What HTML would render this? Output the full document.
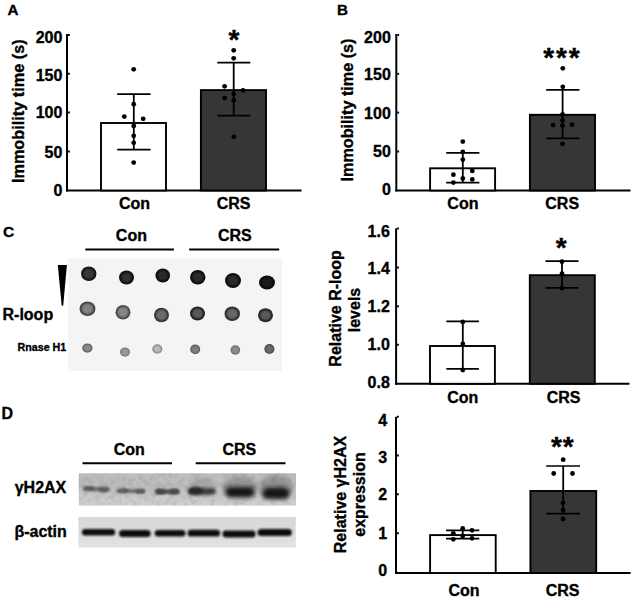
<!DOCTYPE html>
<html><head><meta charset="utf-8"><style>
html,body{margin:0;padding:0;background:#fff;}
svg{display:block;font-family:"Liberation Sans", sans-serif;}
text{stroke:#000;stroke-width:0.35px;}
</style></head><body>
<svg width="635" height="600" viewBox="0 0 635 600">
<rect width="635" height="600" fill="#fff"/>
<line x1="67" y1="34" x2="67" y2="191.5" stroke="#000" stroke-width="2"/>
<line x1="66" y1="190.5" x2="301.5" y2="190.5" stroke="#000" stroke-width="2"/>
<line x1="68" y1="35" x2="69.8" y2="35" stroke="#000" stroke-width="2"/>
<text x="62.4" y="42.800000000000004" font-size="16" text-anchor="end" font-weight="bold" >200</text>
<line x1="68" y1="73.8" x2="69.8" y2="73.8" stroke="#000" stroke-width="2"/>
<text x="62.4" y="80.8" font-size="16" text-anchor="end" font-weight="bold" >150</text>
<line x1="68" y1="112.6" x2="69.8" y2="112.6" stroke="#000" stroke-width="2"/>
<text x="62.4" y="118.19999999999999" font-size="16" text-anchor="end" font-weight="bold" >100</text>
<line x1="68" y1="151.5" x2="69.8" y2="151.5" stroke="#000" stroke-width="2"/>
<text x="62.4" y="157.9" font-size="16" text-anchor="end" font-weight="bold" >50</text>
<text x="62.4" y="196.1" font-size="16" text-anchor="end" font-weight="bold" >0</text>
<rect x="101" y="123" width="65" height="67.5" fill="#fff" stroke="#000" stroke-width="1.9"/>
<rect x="200.9" y="90.1" width="65.1" height="100.4" fill="#363636" stroke="#000" stroke-width="1.9"/>
<line x1="133.8" y1="94.2" x2="133.8" y2="149.7" stroke="#000" stroke-width="1.8"/>
<line x1="117.2" y1="94.2" x2="150.6" y2="94.2" stroke="#000" stroke-width="1.7"/>
<line x1="117.2" y1="149.7" x2="150.6" y2="149.7" stroke="#000" stroke-width="1.7"/>
<line x1="233.7" y1="62.7" x2="233.7" y2="115.7" stroke="#000" stroke-width="1.8"/>
<line x1="217.3" y1="62.7" x2="250.3" y2="62.7" stroke="#000" stroke-width="1.7"/>
<line x1="217.3" y1="115.7" x2="250.3" y2="115.7" stroke="#000" stroke-width="1.7"/>
<circle cx="133.7" cy="69.3" r="2.4" fill="#000"/>
<circle cx="133.7" cy="104.2" r="2.4" fill="#000"/>
<circle cx="124.3" cy="116.6" r="2.4" fill="#000"/>
<circle cx="143.2" cy="118.8" r="2.4" fill="#000"/>
<circle cx="133.7" cy="126" r="2.4" fill="#000"/>
<circle cx="133.7" cy="135.8" r="2.4" fill="#000"/>
<circle cx="133.7" cy="142.8" r="2.4" fill="#000"/>
<circle cx="133.7" cy="162.6" r="2.4" fill="#000"/>
<circle cx="233.7" cy="50.3" r="2.4" fill="#000"/>
<circle cx="233.7" cy="58.3" r="2.4" fill="#000"/>
<circle cx="224.6" cy="86.3" r="2.4" fill="#000"/>
<circle cx="243" cy="90.3" r="2.4" fill="#000"/>
<circle cx="233.7" cy="94.1" r="2.4" fill="#000"/>
<circle cx="224.6" cy="98.1" r="2.4" fill="#000"/>
<circle cx="233.7" cy="100.3" r="2.4" fill="#000"/>
<circle cx="233.8" cy="136.8" r="2.4" fill="#000"/>
<text x="134.5" y="208.6" font-size="16" text-anchor="middle" font-weight="bold" >Con</text>
<text x="233.6" y="208.6" font-size="16" text-anchor="middle" font-weight="bold" >CRS</text>
<text transform="translate(24.2,111.2) rotate(-90)" font-size="16.3" font-weight="bold" text-anchor="middle">Immobility time (s)</text>
<text x="233.9" y="49.2" font-size="28" font-weight="bold" text-anchor="middle">*</text>
<line x1="396.3" y1="34" x2="396.3" y2="191.5" stroke="#000" stroke-width="2"/>
<line x1="395.3" y1="190.5" x2="630.5" y2="190.5" stroke="#000" stroke-width="2"/>
<line x1="397.3" y1="35" x2="399.1" y2="35" stroke="#000" stroke-width="2"/>
<text x="390.8" y="43.1" font-size="16" text-anchor="end" font-weight="bold" >200</text>
<line x1="397.3" y1="73.8" x2="399.1" y2="73.8" stroke="#000" stroke-width="2"/>
<text x="390.8" y="80.39999999999999" font-size="16" text-anchor="end" font-weight="bold" >150</text>
<line x1="397.3" y1="112.6" x2="399.1" y2="112.6" stroke="#000" stroke-width="2"/>
<text x="390.8" y="118.6" font-size="16" text-anchor="end" font-weight="bold" >100</text>
<line x1="397.3" y1="151.5" x2="399.1" y2="151.5" stroke="#000" stroke-width="2"/>
<text x="390.8" y="157.1" font-size="16" text-anchor="end" font-weight="bold" >50</text>
<text x="390.8" y="195.1" font-size="16" text-anchor="end" font-weight="bold" >0</text>
<rect x="430.1" y="168.3" width="65.0" height="22.19999999999999" fill="#fff" stroke="#000" stroke-width="1.9"/>
<rect x="529.9" y="114.8" width="65.10000000000002" height="75.7" fill="#363636" stroke="#000" stroke-width="1.9"/>
<line x1="462.8" y1="152.9" x2="462.8" y2="182.6" stroke="#000" stroke-width="1.8"/>
<line x1="446.2" y1="152.9" x2="479.4" y2="152.9" stroke="#000" stroke-width="1.7"/>
<line x1="446.2" y1="182.6" x2="479.4" y2="182.6" stroke="#000" stroke-width="1.7"/>
<line x1="562.6" y1="89.8" x2="562.6" y2="138.3" stroke="#000" stroke-width="1.8"/>
<line x1="546.2" y1="89.8" x2="579.4" y2="89.8" stroke="#000" stroke-width="1.7"/>
<line x1="546.2" y1="138.3" x2="579.4" y2="138.3" stroke="#000" stroke-width="1.7"/>
<circle cx="462.8" cy="141.6" r="2.4" fill="#000"/>
<circle cx="462.8" cy="152" r="2.4" fill="#000"/>
<circle cx="462.8" cy="159.6" r="2.4" fill="#000"/>
<circle cx="472.3" cy="170.9" r="2.4" fill="#000"/>
<circle cx="453.4" cy="174.7" r="2.4" fill="#000"/>
<circle cx="462.8" cy="178.5" r="2.4" fill="#000"/>
<circle cx="472.3" cy="179.4" r="2.4" fill="#000"/>
<circle cx="453.4" cy="182.6" r="2.4" fill="#000"/>
<circle cx="562.8" cy="68.3" r="2.4" fill="#000"/>
<circle cx="562.8" cy="86.8" r="2.4" fill="#000"/>
<circle cx="562.6" cy="114.5" r="2.4" fill="#000"/>
<circle cx="562.5" cy="120.4" r="2.4" fill="#000"/>
<circle cx="553" cy="125.1" r="2.4" fill="#000"/>
<circle cx="562.5" cy="125.6" r="2.4" fill="#000"/>
<circle cx="572" cy="124.7" r="2.4" fill="#000"/>
<circle cx="562.5" cy="143.8" r="2.4" fill="#000"/>
<text x="462.9" y="208.6" font-size="16" text-anchor="middle" font-weight="bold" >Con</text>
<text x="562.2" y="208.6" font-size="16" text-anchor="middle" font-weight="bold" >CRS</text>
<text transform="translate(353,110) rotate(-90)" font-size="16.2" font-weight="bold" text-anchor="middle">Immobility time (s)</text>
<text x="548.7" y="66.7" font-size="28" font-weight="bold" text-anchor="middle">*</text>
<text x="561.5" y="66.7" font-size="28" font-weight="bold" text-anchor="middle">*</text>
<text x="574.3" y="66.7" font-size="28" font-weight="bold" text-anchor="middle">*</text>
<line x1="396.1" y1="228.3" x2="396.1" y2="384.8" stroke="#000" stroke-width="2"/>
<line x1="395.1" y1="383.8" x2="629.5" y2="383.8" stroke="#000" stroke-width="2"/>
<line x1="397.1" y1="228.5" x2="398.90000000000003" y2="228.5" stroke="#000" stroke-width="2"/>
<text x="389.8" y="237.4" font-size="16" text-anchor="end" font-weight="bold" >1.6</text>
<line x1="397.1" y1="267.6" x2="398.90000000000003" y2="267.6" stroke="#000" stroke-width="2"/>
<text x="389.8" y="274.20000000000005" font-size="16" text-anchor="end" font-weight="bold" >1.4</text>
<line x1="397.1" y1="306.3" x2="398.90000000000003" y2="306.3" stroke="#000" stroke-width="2"/>
<text x="389.8" y="311.90000000000003" font-size="16" text-anchor="end" font-weight="bold" >1.2</text>
<line x1="397.1" y1="344.8" x2="398.90000000000003" y2="344.8" stroke="#000" stroke-width="2"/>
<text x="389.8" y="350.40000000000003" font-size="16" text-anchor="end" font-weight="bold" >1.0</text>
<text x="389.8" y="387.6" font-size="16" text-anchor="end" font-weight="bold" >0.8</text>
<rect x="430" y="346" width="64.89999999999998" height="37.80000000000001" fill="#fff" stroke="#000" stroke-width="1.9"/>
<rect x="529.8" y="275.2" width="65.0" height="108.60000000000002" fill="#363636" stroke="#000" stroke-width="1.9"/>
<line x1="462.8" y1="321.3" x2="462.8" y2="368.9" stroke="#000" stroke-width="1.8"/>
<line x1="446.3" y1="321.3" x2="478.9" y2="321.3" stroke="#000" stroke-width="1.7"/>
<line x1="446.3" y1="368.9" x2="478.9" y2="368.9" stroke="#000" stroke-width="1.7"/>
<line x1="562" y1="261.2" x2="562" y2="287.8" stroke="#000" stroke-width="1.8"/>
<line x1="545.5" y1="261.2" x2="578.5" y2="261.2" stroke="#000" stroke-width="1.7"/>
<line x1="545.5" y1="287.8" x2="578.5" y2="287.8" stroke="#000" stroke-width="1.7"/>
<circle cx="462.8" cy="322" r="2.4" fill="#000"/>
<circle cx="462.8" cy="343.8" r="2.4" fill="#000"/>
<circle cx="462.8" cy="370" r="2.4" fill="#000"/>
<circle cx="562" cy="261.7" r="2.4" fill="#000"/>
<circle cx="562" cy="273.7" r="2.4" fill="#000"/>
<circle cx="562" cy="288.2" r="2.4" fill="#000"/>
<text x="462.7" y="402.5" font-size="16" text-anchor="middle" font-weight="bold" >Con</text>
<text x="563.6" y="402.5" font-size="16" text-anchor="middle" font-weight="bold" >CRS</text>
<text transform="translate(340.5,308.4) rotate(-90)" font-size="16" font-weight="bold" text-anchor="middle">Relative R-loop</text>
<text transform="translate(359.5,310) rotate(-90)" font-size="16" font-weight="bold" text-anchor="middle">levels</text>
<text x="561.1" y="257" font-size="28" font-weight="bold" text-anchor="middle">*</text>
<line x1="396" y1="416.7" x2="396" y2="574" stroke="#000" stroke-width="2"/>
<line x1="395" y1="573" x2="630.6" y2="573" stroke="#000" stroke-width="2"/>
<line x1="397" y1="416.7" x2="398.8" y2="416.7" stroke="#000" stroke-width="2"/>
<text x="387.2" y="425.8" font-size="16" text-anchor="end" font-weight="bold" >4</text>
<line x1="397" y1="455.5" x2="398.8" y2="455.5" stroke="#000" stroke-width="2"/>
<text x="387.2" y="462.8" font-size="16" text-anchor="end" font-weight="bold" >3</text>
<line x1="397" y1="494.3" x2="398.8" y2="494.3" stroke="#000" stroke-width="2"/>
<text x="387.2" y="499.90000000000003" font-size="16" text-anchor="end" font-weight="bold" >2</text>
<line x1="397" y1="533.3" x2="398.8" y2="533.3" stroke="#000" stroke-width="2"/>
<text x="387.2" y="539.3" font-size="16" text-anchor="end" font-weight="bold" >1</text>
<text x="387.2" y="576.4" font-size="16" text-anchor="end" font-weight="bold" >0</text>
<rect x="430.1" y="535.1" width="65.59999999999997" height="37.89999999999998" fill="#fff" stroke="#000" stroke-width="1.9"/>
<rect x="530.4" y="491" width="65.80000000000007" height="82" fill="#363636" stroke="#000" stroke-width="1.9"/>
<line x1="462.7" y1="530.3" x2="462.7" y2="538.7" stroke="#000" stroke-width="1.8"/>
<line x1="446" y1="530.3" x2="479.3" y2="530.3" stroke="#000" stroke-width="1.7"/>
<line x1="446" y1="538.7" x2="479.3" y2="538.7" stroke="#000" stroke-width="1.7"/>
<line x1="563.2" y1="466" x2="563.2" y2="513.6" stroke="#000" stroke-width="1.8"/>
<line x1="546.2" y1="466" x2="580" y2="466" stroke="#000" stroke-width="1.7"/>
<line x1="546.2" y1="513.6" x2="580" y2="513.6" stroke="#000" stroke-width="1.7"/>
<circle cx="462.7" cy="528.4" r="2.4" fill="#000"/>
<circle cx="472" cy="530.3" r="2.4" fill="#000"/>
<circle cx="453.3" cy="533.3" r="2.4" fill="#000"/>
<circle cx="462.7" cy="536" r="2.4" fill="#000"/>
<circle cx="453.3" cy="539.3" r="2.4" fill="#000"/>
<circle cx="472" cy="538.3" r="2.4" fill="#000"/>
<circle cx="563.2" cy="459.7" r="2.4" fill="#000"/>
<circle cx="553.7" cy="473.5" r="2.4" fill="#000"/>
<circle cx="572.5" cy="473.5" r="2.4" fill="#000"/>
<circle cx="563" cy="503" r="2.4" fill="#000"/>
<circle cx="563" cy="510" r="2.4" fill="#000"/>
<circle cx="563" cy="519" r="2.4" fill="#000"/>
<text x="464" y="596" font-size="16" text-anchor="middle" font-weight="bold" >Con</text>
<text x="562.6" y="596" font-size="16" text-anchor="middle" font-weight="bold" >CRS</text>
<text transform="translate(345.7,494.5) rotate(-90)" font-size="16" font-weight="bold" text-anchor="middle">Relative γH2AX</text>
<text transform="translate(364.7,494.5) rotate(-90)" font-size="16" font-weight="bold" text-anchor="middle">expression</text>
<text x="556.5" y="455.7" font-size="28" font-weight="bold" text-anchor="middle">*</text>
<text x="568.3" y="455.7" font-size="28" font-weight="bold" text-anchor="middle">*</text>
<text x="7.4" y="14.6" font-size="15.2" text-anchor="start" font-weight="bold" >A</text>
<text x="336.9" y="14.8" font-size="15.2" text-anchor="start" font-weight="bold" >B</text>
<text x="2.9" y="237" font-size="15.5" text-anchor="start" font-weight="bold" >C</text>
<text x="1.6" y="418.7" font-size="16" text-anchor="start" font-weight="bold" >D</text>
<rect x="68.3" y="258.4" width="213.7" height="112.6" fill="#f4f4f4"/>
<text x="131.4" y="241.2" font-size="16" text-anchor="middle" font-weight="bold" >Con</text>
<text x="234.9" y="241.2" font-size="16" text-anchor="middle" font-weight="bold" >CRS</text>
<text x="131.4" y="241.2" font-size="16" font-weight="bold" text-anchor="middle"></text>
<line x1="85.3" y1="249.4" x2="173.9" y2="249.4" stroke="#000" stroke-width="2"/>
<line x1="189.2" y1="249.4" x2="279.2" y2="249.4" stroke="#000" stroke-width="2"/>
<polygon points="57.8,265.1 66.9,265.1 63.2,305.8 61.7,305.8" fill="#000"/>
<text x="2.5" y="319.6" font-size="16" text-anchor="start" font-weight="bold" >R-loop</text>
<text x="17.5" y="350.7" font-size="10.7" text-anchor="start" font-weight="bold" >Rnase H1</text>
<defs><filter id="sb" x="-30%" y="-30%" width="160%" height="160%"><feGaussianBlur stdDeviation="0.55"/></filter></defs>
<radialGradient id="g0"><stop offset="0" stop-color="#383838"/><stop offset="0.5" stop-color="#383838"/><stop offset="0.85" stop-color="#151515"/><stop offset="1" stop-color="#151515"/></radialGradient>
<ellipse cx="88.75" cy="273.75" rx="7.7" ry="7.3" fill="url(#g0)" filter="url(#sb)"/>
<radialGradient id="g1"><stop offset="0" stop-color="#303030"/><stop offset="0.5" stop-color="#303030"/><stop offset="0.85" stop-color="#101010"/><stop offset="1" stop-color="#101010"/></radialGradient>
<ellipse cx="126.5" cy="277.5" rx="7.5" ry="7.1" fill="url(#g1)" filter="url(#sb)"/>
<radialGradient id="g2"><stop offset="0" stop-color="#2a2a2a"/><stop offset="0.5" stop-color="#2a2a2a"/><stop offset="0.85" stop-color="#101010"/><stop offset="1" stop-color="#101010"/></radialGradient>
<ellipse cx="162.75" cy="275.5" rx="7.3" ry="7.0" fill="url(#g2)" filter="url(#sb)"/>
<radialGradient id="g3"><stop offset="0" stop-color="#2a2a2a"/><stop offset="0.5" stop-color="#2a2a2a"/><stop offset="0.85" stop-color="#0c0c0c"/><stop offset="1" stop-color="#0c0c0c"/></radialGradient>
<ellipse cx="197.75" cy="277.25" rx="7.7" ry="7.3" fill="url(#g3)" filter="url(#sb)"/>
<radialGradient id="g4"><stop offset="0" stop-color="#2a2a2a"/><stop offset="0.5" stop-color="#2a2a2a"/><stop offset="0.85" stop-color="#0c0c0c"/><stop offset="1" stop-color="#0c0c0c"/></radialGradient>
<ellipse cx="233" cy="280.5" rx="8" ry="7.5" fill="url(#g4)" filter="url(#sb)"/>
<radialGradient id="g5"><stop offset="0" stop-color="#1c1c1c"/><stop offset="0.5" stop-color="#1c1c1c"/><stop offset="0.85" stop-color="#090909"/><stop offset="1" stop-color="#090909"/></radialGradient>
<ellipse cx="267" cy="282.5" rx="8" ry="7.1" fill="url(#g5)" filter="url(#sb)"/>
<radialGradient id="g6"><stop offset="0" stop-color="#828282"/><stop offset="0.5" stop-color="#828282"/><stop offset="0.85" stop-color="#484848"/><stop offset="1" stop-color="#484848"/></radialGradient>
<ellipse cx="87.5" cy="308.75" rx="8" ry="7.3" fill="url(#g6)" filter="url(#sb)"/>
<radialGradient id="g7"><stop offset="0" stop-color="#868686"/><stop offset="0.5" stop-color="#868686"/><stop offset="0.85" stop-color="#4e4e4e"/><stop offset="1" stop-color="#4e4e4e"/></radialGradient>
<ellipse cx="123" cy="312.25" rx="7.5" ry="7.25" fill="url(#g7)" filter="url(#sb)"/>
<radialGradient id="g8"><stop offset="0" stop-color="#6c6c6c"/><stop offset="0.5" stop-color="#6c6c6c"/><stop offset="0.85" stop-color="#383838"/><stop offset="1" stop-color="#383838"/></radialGradient>
<ellipse cx="161.5" cy="315" rx="7.5" ry="7.3" fill="url(#g8)" filter="url(#sb)"/>
<radialGradient id="g9"><stop offset="0" stop-color="#585858"/><stop offset="0.5" stop-color="#585858"/><stop offset="0.85" stop-color="#222222"/><stop offset="1" stop-color="#222222"/></radialGradient>
<ellipse cx="197.5" cy="313.5" rx="7.5" ry="7.1" fill="url(#g9)" filter="url(#sb)"/>
<radialGradient id="g10"><stop offset="0" stop-color="#686868"/><stop offset="0.5" stop-color="#686868"/><stop offset="0.85" stop-color="#303030"/><stop offset="1" stop-color="#303030"/></radialGradient>
<ellipse cx="232.25" cy="313.75" rx="7.75" ry="7.25" fill="url(#g10)" filter="url(#sb)"/>
<radialGradient id="g11"><stop offset="0" stop-color="#585858"/><stop offset="0.5" stop-color="#585858"/><stop offset="0.85" stop-color="#282828"/><stop offset="1" stop-color="#282828"/></radialGradient>
<ellipse cx="265.5" cy="315.25" rx="7.5" ry="6.9" fill="url(#g11)" filter="url(#sb)"/>
<radialGradient id="g12"><stop offset="0" stop-color="#8a8a8a"/><stop offset="0.5" stop-color="#8a8a8a"/><stop offset="0.85" stop-color="#666666"/><stop offset="1" stop-color="#666666"/></radialGradient>
<ellipse cx="87.4" cy="348.1" rx="5.2" ry="4.6" fill="url(#g12)" filter="url(#sb)"/>
<radialGradient id="g13"><stop offset="0" stop-color="#9a9a9a"/><stop offset="0.5" stop-color="#9a9a9a"/><stop offset="0.85" stop-color="#7e7e7e"/><stop offset="1" stop-color="#7e7e7e"/></radialGradient>
<ellipse cx="125" cy="352.1" rx="5.1" ry="4.6" fill="url(#g13)" filter="url(#sb)"/>
<radialGradient id="g14"><stop offset="0" stop-color="#b8b8b8"/><stop offset="0.5" stop-color="#b8b8b8"/><stop offset="0.85" stop-color="#8e8e8e"/><stop offset="1" stop-color="#8e8e8e"/></radialGradient>
<ellipse cx="157.3" cy="349" rx="5.1" ry="4.7" fill="url(#g14)" filter="url(#sb)"/>
<radialGradient id="g15"><stop offset="0" stop-color="#7e7e7e"/><stop offset="0.5" stop-color="#7e7e7e"/><stop offset="0.85" stop-color="#636363"/><stop offset="1" stop-color="#636363"/></radialGradient>
<ellipse cx="195.2" cy="349.3" rx="5" ry="4.9" fill="url(#g15)" filter="url(#sb)"/>
<radialGradient id="g16"><stop offset="0" stop-color="#8c8c8c"/><stop offset="0.5" stop-color="#8c8c8c"/><stop offset="0.85" stop-color="#727272"/><stop offset="1" stop-color="#727272"/></radialGradient>
<ellipse cx="235.3" cy="350" rx="4.9" ry="4.7" fill="url(#g16)" filter="url(#sb)"/>
<radialGradient id="g17"><stop offset="0" stop-color="#6a6a6a"/><stop offset="0.5" stop-color="#6a6a6a"/><stop offset="0.85" stop-color="#505050"/><stop offset="1" stop-color="#505050"/></radialGradient>
<ellipse cx="269.4" cy="349" rx="5.1" ry="4.9" fill="url(#g17)" filter="url(#sb)"/>
<defs><filter id="bl1" x="-30%" y="-100%" width="160%" height="300%"><feGaussianBlur stdDeviation="1.3"/></filter><filter id="bl2" x="-30%" y="-100%" width="160%" height="300%"><feGaussianBlur stdDeviation="0.9"/></filter><filter id="bl4" x="-30%" y="-100%" width="160%" height="300%"><feGaussianBlur stdDeviation="1.7"/></filter><filter id="nz" x="0" y="0" width="100%" height="100%"><feTurbulence type="fractalNoise" baseFrequency="0.18" numOctaves="2" seed="7" result="t"/><feColorMatrix in="t" type="matrix" values="0 0 0 0 0  0 0 0 0 0  0 0 0 0 0  2.2 0 0 0 -0.9"/></filter><filter id="bl5" x="-30%" y="-100%" width="160%" height="300%"><feGaussianBlur stdDeviation="1.9"/></filter><filter id="bl6" x="-30%" y="-100%" width="160%" height="300%"><feGaussianBlur stdDeviation="1.1"/></filter><filter id="bl3" x="-30%" y="-100%" width="160%" height="300%"><feGaussianBlur stdDeviation="2.5"/></filter><linearGradient id="gh" x1="0" y1="0" x2="0" y2="1"><stop offset="0" stop-color="#bebebe"/><stop offset="0.5" stop-color="#c6c6c6"/><stop offset="1" stop-color="#d0d0d0"/></linearGradient><linearGradient id="ga" x1="0" y1="0" x2="0" y2="1"><stop offset="0" stop-color="#d8d8d8"/><stop offset="0.5" stop-color="#dcdcdc"/><stop offset="1" stop-color="#e3e3e3"/></linearGradient><clipPath id="cph"><rect x="78.8" y="473.3" width="217.2" height="32.3"/></clipPath><clipPath id="cpa"><rect x="78.4" y="517" width="217.4" height="30.6"/></clipPath></defs>
<rect x="78.8" y="473.3" width="217.2" height="32.3" fill="url(#gh)"/>
<rect x="78.4" y="517" width="217.4" height="30.6" fill="url(#ga)"/>
<g clip-path="url(#cph)">
<ellipse cx="240" cy="487" rx="18" ry="11" fill="#989898" filter="url(#bl3)"/>
<ellipse cx="276" cy="487" rx="17" ry="12" fill="#939393" filter="url(#bl3)"/>
<ellipse cx="202" cy="487" rx="15" ry="9" fill="#a8a8a8" filter="url(#bl3)"/>
<ellipse cx="100" cy="484" rx="30" ry="9" fill="#bcbcbc" filter="url(#bl3)"/>
<ellipse cx="160" cy="484" rx="30" ry="9" fill="#bdbdbd" filter="url(#bl3)"/>
<rect x="83" y="487.1" width="26.5" height="3.8" rx="1.9" fill="#707070" filter="url(#bl1)"/>
<ellipse cx="89" cy="488.3" rx="5.5" ry="2.1" fill="#5c5c5c" filter="url(#bl1)"/>
<ellipse cx="103.5" cy="490" rx="5.5" ry="2.2" fill="#5a5a5a" filter="url(#bl1)"/>
<rect x="116" y="489.0" width="29" height="4.0" rx="2.0" fill="#707070" filter="url(#bl1)"/>
<ellipse cx="123.5" cy="490.8" rx="5.5" ry="2.2" fill="#5e5e5e" filter="url(#bl1)"/>
<ellipse cx="140" cy="491.5" rx="5" ry="2.2" fill="#5e5e5e" filter="url(#bl1)"/>
<rect x="155" y="489.3" width="24.5" height="4.8" rx="2.4" fill="#5a5a5a" filter="url(#bl1)"/>
<ellipse cx="160.5" cy="491.7" rx="5" ry="2.6" fill="#4a4a4a" filter="url(#bl1)"/>
<ellipse cx="174" cy="491.7" rx="5" ry="2.6" fill="#4a4a4a" filter="url(#bl1)"/>
<rect x="188" y="488.2" width="27.5" height="6.4" rx="3.2" fill="#3a3a3a" filter="url(#bl4)"/>
<ellipse cx="196" cy="490.8" rx="7" ry="3.6" fill="#262626" filter="url(#bl4)"/>
<rect x="225.5" y="487.1" width="29.0" height="10.0" rx="5.0" fill="#161616" filter="url(#bl5)"/>
<rect x="262.5" y="487.8" width="27.0" height="11.0" rx="5.5" fill="#131313" filter="url(#bl5)"/>
<rect x="78.8" y="473.3" width="217.2" height="32.3" fill="#000" opacity="0.10" filter="url(#nz)"/>
</g>
<g clip-path="url(#cpa)">
<rect x="81.9" y="529.0" width="33.3" height="6.6" rx="3.3" fill="#0e0e0e" filter="url(#bl6)"/>
<rect x="119" y="530.1" width="31.69999999999999" height="7.0" rx="3.5" fill="#0e0e0e" filter="url(#bl6)"/>
<rect x="154.7" y="529.9000000000001" width="30.80000000000001" height="6.6" rx="3.3" fill="#0e0e0e" filter="url(#bl6)"/>
<rect x="187.6" y="529.85" width="32.5" height="6.7" rx="3.35" fill="#0e0e0e" filter="url(#bl6)"/>
<rect x="222.5" y="530.6" width="33.099999999999994" height="6.8" rx="3.4" fill="#0e0e0e" filter="url(#bl6)"/>
<rect x="257.5" y="529.0" width="34.39999999999998" height="7.0" rx="3.5" fill="#0e0e0e" filter="url(#bl6)"/>
</g>
<text x="129.3" y="455.3" font-size="16" text-anchor="middle" font-weight="bold" >Con</text>
<text x="239.4" y="455.3" font-size="16" text-anchor="middle" font-weight="bold" >CRS</text>
<line x1="82.5" y1="463.2" x2="172" y2="463.2" stroke="#000" stroke-width="2"/>
<line x1="195.7" y1="463.2" x2="285.5" y2="463.2" stroke="#000" stroke-width="2"/>
<text x="14.7" y="492.6" font-size="16" text-anchor="start" font-weight="bold" >γH2AX</text>
<text x="14.4" y="537.3" font-size="16" text-anchor="start" font-weight="bold" >β-actin</text>
</svg></body></html>
